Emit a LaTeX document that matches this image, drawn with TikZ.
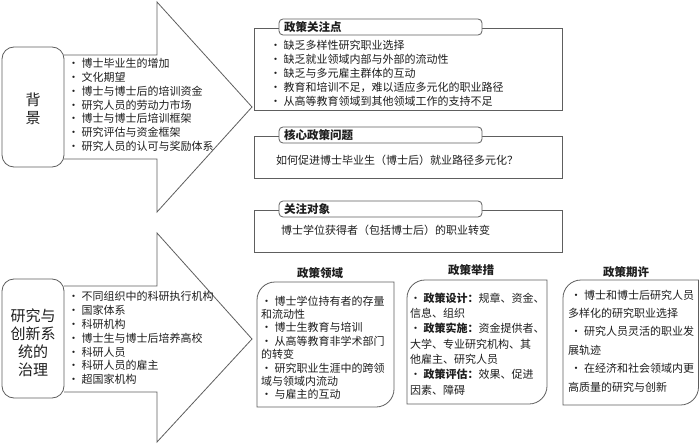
\documentclass[tikz,border=0pt]{standalone}
\usepackage{fontspec}
\setmainfont{Noto Sans CJK SC}
\definecolor{ln}{HTML}{5E5E5E}
\definecolor{tx}{HTML}{1E1E1E}
\begin{document}
\begin{tikzpicture}[x=1pt,y=-1pt,
  line/.style={draw=ln, line width=0.8pt},
  arrowshape/.style={line, fill=white},
  sidebox/.style={line, fill=white, rounded corners=12pt},
  tabbox/.style={line, fill=white, rounded corners=4pt},
  sidetext/.style={inner sep=0pt, align=center, font=\fontsize{15}{18}\selectfont, text=tx},
  itemtext/.style={anchor=north west, inner sep=0pt, align=left, text=tx},
  titletext/.style={anchor=west, inner sep=0pt, font=\bfseries\fontsize{11.5}{13}\selectfont, text=tx},
  headtext/.style={inner sep=0pt, font=\bfseries\fontsize{11.5}{13}\selectfont, text=tx}
]
\useasboundingbox[fill=white] (0,0) rectangle (700,446);

% ---------- top arrow: background ----------
\draw[arrowshape] (64,55) -- (157,55) -- (157,2) -- (252,107) -- (157,212) -- (157,159) -- (64,159);
\draw[sidebox] (2,47) rectangle (64,167);
\node[sidetext] (bg) at (33,109) {背\\景};
\node[itemtext, font=\fontsize{11}{13.7}\selectfont] (bgitems) at (68,58.5)
 {•\ 博士毕业生的增加\\•\ 文化期望\\•\ 博士与博士后的培训资金\\•\ 研究人员的劳动力市场\\•\ 博士与博士后培训框架\\•\ 研究评估与资金框架\\•\ 研究人员的认可与奖励体系};

% ---------- bottom arrow: governance ----------
\draw[arrowshape] (64,286) -- (157,286) -- (157,233) -- (252,339) -- (157,442) -- (157,392) -- (64,392);
\draw[sidebox] (2,279) rectangle (64,398);
\node[sidetext] (gov) at (33,343) {研究与\\创新系\\统的\\治理};
\node[itemtext, font=\fontsize{11}{13.8}\selectfont] (govitems) at (68,291.5)
 {•\ 不同组织中的科研执行机构\\•\ 国家体系\\•\ 科研机构\\•\ 博士生与博士后培养高校\\•\ 科研人员\\•\ 科研人员的雇主\\•\ 超国家机构};

% ---------- right boxes ----------
\draw[line] (254,28) rectangle (562,110);
\draw[tabbox] (279,19) rectangle (482,35);
\node[titletext] (t1) at (284,27) {政策关注点};
\node[itemtext, font=\fontsize{11}{14}\selectfont] (focus) at (270,39.5)
 {•\ 缺乏多样性研究职业选择\\•\ 缺乏就业领域内部与外部的流动性\\•\ 缺乏与多元雇主群体的互动\\•\ 教育和培训不足，难以适应多元化的职业路径\\•\ 从高等教育领域到其他领域工作的支持不足};

\draw[line] (254,136) rectangle (562,178);
\draw[tabbox] (279,127) rectangle (482,143);
\node[titletext] (t2) at (284,135) {核心政策问题};
\node[itemtext, font=\fontsize{11}{14}\selectfont] (question) at (276,154.5)
 {如何促进博士毕业生（博士后）就业路径多元化？};

\draw[line] (254,210) rectangle (562,252);
\draw[tabbox] (279,201) rectangle (482,217);
\node[titletext] (t3) at (284,209) {关注对象};
\node[itemtext, font=\fontsize{11}{14}\selectfont] (target) at (281,224.5)
 {博士学位获得者（包括博士后）的职业转变};

% ---------- bottom three boxes ----------
\node[headtext] (h1) at (320,273) {政策领域};
\draw[line] (257,407) -- (257,300) arc(180:270:18) -- (394,282) -- (394,389) arc(0:90:18) -- cycle;
\node[itemtext, font=\fontsize{11}{13.4}\selectfont] (areas) at (261,295.5)
 {•\ 博士学位持有者的存量\\和流动性\\•\ 博士生教育与培训\\•\ 从高等教育非学术部门\\的转变\\•\ 研究职业生涯中的跨领\\域与领域内流动\\•\ 与雇主的互动};

\node[headtext] (h2) at (471,270) {政策举措};
\draw[line] (407,404) -- (407,298) arc(180:270:18) -- (547,280) -- (547,386) arc(0:90:18) -- cycle;
\node[itemtext, font=\fontsize{11}{15.3}\selectfont] (measures) at (410,292.5)
 {•\ \textbf{政策设计：}规章、资金、\\信息、组织\\•\ \textbf{政策实施：}资金提供者、\\大学、专业研究机构、其\\他雇主、研究人员\\•\ \textbf{政策评估：}效果、促进\\因素、障碍};

\node[headtext] (h3) at (626,272) {政策期许};
\draw[line] (563,405) -- (563,298) arc(180:270:18) -- (698.5,280) -- (698.5,387) arc(0:90:18) -- cycle;
\node[itemtext, font=\fontsize{11}{18.4}\selectfont] (expect) at (568,289.5)
 {\ •\ 博士和博士后研究人员\\多样化的研究职业选择\\\ •\ 研究人员灵活的职业发\\展轨迹\\\ •\ 在经济和社会领域内更\\高质量的研究与创新};
\end{tikzpicture}
\end{document}
